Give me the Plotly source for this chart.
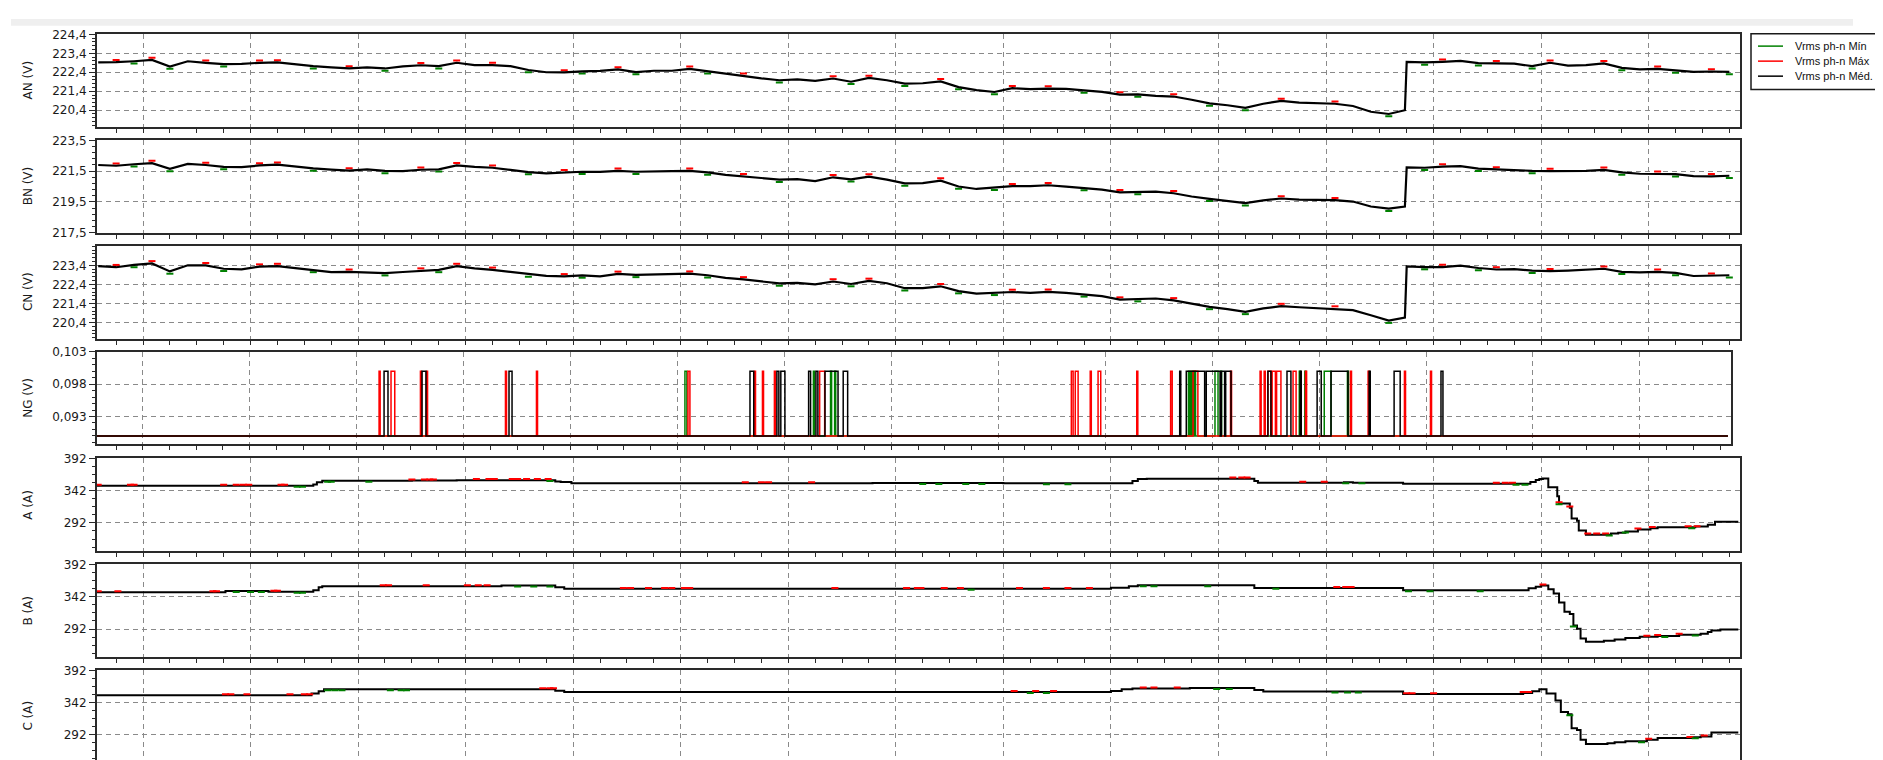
import pandas as pd
import plotly.graph_objects as go

W, H = 1883, 760
DAY = '2024-03-11 '

# ---------------- time base for the voltage averages (10-min log + last reading before the jump) ----------------
t_med = (list(pd.date_range(DAY + '07:35', periods=73, freq='10min'))
         + [pd.Timestamp(DAY + '19:44')]
         + list(pd.date_range(DAY + '19:45', periods=19, freq='10min')))

# ---------------- phase-neutral voltages (V) ----------------
an_med = [222.92, 222.93, 222.98, 223.05, 222.70, 222.98, 222.90, 222.83, 222.84, 222.90,
          222.92, 222.82, 222.72, 222.66, 222.60, 222.66, 222.60, 222.71, 222.77, 222.72,
          222.90, 222.78, 222.78, 222.72, 222.52, 222.40, 222.39, 222.45, 222.47, 222.55,
          222.41, 222.48, 222.48, 222.58, 222.45, 222.34, 222.22, 222.08, 221.98, 222.02,
          221.95, 222.07, 221.90, 222.10, 221.98, 221.80, 221.82, 221.92, 221.62, 221.46,
          221.36, 221.56, 221.51, 221.54, 221.52, 221.44, 221.37, 221.22, 221.23, 221.16,
          221.12, 220.95, 220.76, 220.66, 220.52, 220.74, 220.89, 220.80, 220.78, 220.74,
          220.62, 220.32, 220.20, 220.40, 222.95, 222.92, 222.95, 223.00, 222.88, 222.88,
          222.86, 222.72, 222.90, 222.75, 222.78, 222.87, 222.63, 222.55, 222.58, 222.50,
          222.42, 222.44, 222.42]
bn_med = [221.90, 221.85, 221.95, 222.02, 221.65, 221.97, 221.90, 221.78, 221.76, 221.87,
          221.92, 221.78, 221.68, 221.60, 221.54, 221.62, 221.52, 221.50, 221.59, 221.62,
          221.88, 221.78, 221.72, 221.58, 221.44, 221.35, 221.42, 221.46, 221.45, 221.52,
          221.46, 221.50, 221.50, 221.52, 221.42, 221.26, 221.16, 221.05, 220.95, 220.98,
          220.85, 221.10, 220.97, 221.14, 220.95, 220.70, 220.72, 220.88, 220.50, 220.34,
          220.42, 220.52, 220.52, 220.58, 220.49, 220.40, 220.30, 220.12, 220.14, 220.16,
          220.06, 219.85, 219.70, 219.55, 219.42, 219.60, 219.72, 219.65, 219.63, 219.61,
          219.52, 219.20, 219.06, 219.20, 221.74, 221.72, 221.80, 221.82, 221.66, 221.60,
          221.54, 221.52, 221.50, 221.50, 221.52, 221.58, 221.42, 221.33, 221.33, 221.30,
          221.17, 221.16, 221.20]
cn_med = [223.36, 223.30, 223.42, 223.50, 223.08, 223.40, 223.40, 223.22, 223.19, 223.33,
          223.36, 223.26, 223.16, 223.04, 223.06, 223.03, 222.99, 223.05, 223.12, 223.16,
          223.36, 223.24, 223.16, 223.06, 222.92, 222.85, 222.82, 222.87, 222.82, 222.95,
          222.90, 222.92, 222.92, 222.96, 222.88, 222.74, 222.66, 222.54, 222.45, 222.48,
          222.40, 222.55, 222.42, 222.58, 222.46, 222.20, 222.20, 222.30, 222.05, 221.92,
          221.96, 222.00, 221.95, 222.01, 221.95, 221.88, 221.78, 221.60, 221.63, 221.66,
          221.56, 221.38, 221.22, 221.10, 220.96, 221.14, 221.26, 221.20, 221.15, 221.13,
          221.05, 220.78, 220.50, 220.66, 223.34, 223.31, 223.31, 223.38, 223.26, 223.18,
          223.20, 223.12, 223.09, 223.12, 223.16, 223.22, 223.06, 223.03, 223.06, 223.00,
          222.84, 222.85, 222.88]

# Máx / Mín readings that stand out from the average (same instants for the three phases)
v_max_time = ['07:45', '08:05', '08:35', '09:05', '09:15', '09:55', '10:35', '10:55', '11:15', '11:55',
              '12:25', '13:05', '13:35', '14:25', '14:45', '15:25', '16:05', '16:25', '17:05', '17:35',
              '18:35', '19:05', '20:05', '20:35', '21:05', '21:35', '22:05', '22:35']
an_max = [223.05, 223.17, 223.02, 223.02, 223.04, 222.72, 222.89, 223.02, 222.90, 222.51,
          222.67, 222.70, 222.34, 222.19, 222.22, 222.04, 221.68, 221.66, 221.34, 221.24,
          221.01, 220.86, 223.07, 223.00, 223.02, 222.99, 222.70, 222.56]
bn_max = [222.00, 222.17, 222.05, 222.02, 222.07, 221.69, 221.74, 222.03, 221.87, 221.57,
          221.67, 221.67, 221.31, 221.25, 221.29, 221.03, 220.67, 220.73, 220.27, 220.21,
          219.87, 219.76, 221.95, 221.75, 221.65, 221.73, 221.48, 221.31]
cn_max = [223.42, 223.62, 223.52, 223.45, 223.48, 223.18, 223.24, 223.48, 223.28, 222.94,
          223.07, 223.08, 222.78, 222.67, 222.70, 222.42, 222.12, 222.13, 221.72, 221.68,
          221.38, 221.25, 223.43, 223.30, 223.21, 223.34, 223.18, 222.97]
v_min_time = ['07:55', '08:15', '08:45', '09:35', '10:15', '10:45', '11:35', '12:05', '12:35', '13:15',
              '13:55', '14:35', '15:05', '15:35', '15:55', '16:45', '17:15', '17:55', '18:15', '19:35',
              '19:55', '20:25', '20:55', '21:45', '22:15', '22:45']
an_min = [222.86, 222.58, 222.71, 222.60, 222.48, 222.60, 222.40, 222.33, 222.29, 222.33,
          221.86, 221.78, 221.68, 221.50, 221.24, 221.32, 221.11, 220.64, 220.40, 220.08,
          222.80, 222.76, 222.60, 222.51, 222.38, 222.30]
bn_min = [221.80, 221.50, 221.63, 221.53, 221.37, 221.47, 221.29, 221.31, 221.31, 221.27,
          220.80, 220.82, 220.55, 220.35, 220.27, 220.25, 219.99, 219.55, 219.27, 218.91,
          221.57, 221.51, 221.37, 221.27, 221.15, 221.05]
cn_min = [223.30, 222.96, 223.10, 223.04, 222.87, 223.04, 222.80, 222.75, 222.78, 222.76,
          222.33, 222.30, 222.08, 221.93, 221.84, 221.76, 221.51, 221.10, 220.84, 220.38,
          223.19, 223.14, 223.00, 222.94, 222.88, 222.76]

# ---------------- neutral-ground voltage (V): intervals at the high level ----------------
ng_low, ng_high = 0.090, 0.100
ng_start, ng_end = '07:34:20', '22:49:24'
ng_min_pulses = [('13:04:12', '13:05:18'), ('14:16:18', '14:16:54'), ('14:25:54', '14:26:30'),
                 ('14:28:12', '14:28:48'), ('17:46:42', '17:47:18'), ('17:47:48', '17:48:24'),
                 ('17:49:00', '17:49:36'), ('17:50:06', '17:50:42'), ('18:01:36', '18:03:18'),
                 ('18:04:42', '18:05:18'), ('18:48:54', '18:49:30'), ('18:52:00', '18:52:36'),
                 ('19:02:54', '19:06:42'), ('19:15:54', '19:16:30')]
ng_max_pulses = [('10:12:36', '10:13:12'), ('10:19:18', '10:21:24'), ('10:35:48', '10:36:24'),
                 ('10:39:12', '10:39:48'), ('11:23:30', '11:24:06'), ('11:40:54', '11:41:30'),
                 ('13:05:54', '13:07:00'), ('13:43:12', '13:43:48'), ('13:47:42', '13:48:18'),
                 ('13:54:24', '13:55:00'), ('14:19:48', '14:22:36'), ('16:41:00', '16:42:00'),
                 ('16:43:12', '16:44:48'), ('16:51:36', '16:52:12'), ('16:56:00', '16:57:30'),
                 ('17:17:42', '17:18:18'), ('17:36:42', '17:37:36'), ('17:49:18', '17:52:00'),
                 ('18:10:18', '18:10:54'), ('18:26:54', '18:27:30'), ('18:29:12', '18:29:48'),
                 ('18:31:18', '18:33:00'), ('18:33:40', '18:35:30'), ('18:36:10', '18:38:36'),
                 ('18:45:24', '18:47:06'), ('18:52:24', '18:53:00'), ('19:17:36', '19:18:12'),
                 ('19:27:30', '19:28:06'), ('19:47:54', '19:48:30'), ('20:02:30', '20:03:06')]
ng_med_pulses = [('10:15:24', '10:17:36'), ('10:36:42', '10:38:54'), ('11:25:30', '11:27:12'),
                 ('13:40:42', '13:42:48'), ('13:55:48', '13:56:54'), ('13:58:00', '14:00:18'),
                 ('14:13:36', '14:14:42'), ('14:17:42', '14:18:48'), ('14:22:48', '14:30:06'),
                 ('14:33:00', '14:35:30'), ('17:41:48', '17:42:24'), ('17:45:30', '17:55:48'),
                 ('17:56:42', '18:04:30'), ('18:05:12', '18:07:00'), ('18:07:36', '18:10:36'),
                 ('18:31:18', '18:33:00'), ('18:42:00', '18:44:12'), ('18:49:24', '18:50:00'),
                 ('18:58:54', '19:01:12'), ('19:06:42', '19:16:12'), ('19:28:06', '19:28:42'),
                 ('19:42:06', '19:45:30'), ('20:08:24', '20:09:30')]

# ---------------- phase currents (A): change points ----------------
ia_time = ['07:34', '09:35', '09:37', '09:40', '10:30', '10:55', '11:50', '11:53', '11:59', '14:47',
           '16:00', '17:12', '17:15', '17:20', '18:20', '18:22', '19:10', '19:15', '19:43', '20:54',
           '20:57', '20:59', '21:01', '21:04', '21:09', '21:10', '21:16', '21:17', '21:20', '21:21',
           '21:25', '21:39', '21:43', '21:47', '21:54', '22:01', '22:05', '22:26', '22:33', '22:37',
           '22:50']
ia_med = [349.6, 351.5, 355.0, 357.6, 358.0, 358.4, 356.5, 355.4, 353.5, 354.0,
          353.6, 357.0, 360.2, 360.5, 357.0, 354.5, 355.0, 354.5, 352.8, 355.5,
          358.5, 360.2, 361.0, 347.5, 333.4, 322.3, 315.7, 299.0, 295.5, 280.3,
          273.8, 275.5, 276.8, 278.8, 281.8, 283.8, 285.3, 286.3, 289.0, 294.0,
          294.0]
ia_max_time = ['07:35', '07:53', '07:55', '08:45', '08:52', '08:56', '08:59', '09:17', '09:19', '10:30',
               '10:37', '10:40', '10:42', '11:06', '11:13', '11:16', '11:26', '11:29', '11:34', '11:40',
               '11:46', '13:36', '13:45', '13:49', '14:13', '18:08', '18:13', '18:16', '18:47', '18:59',
               '20:35', '20:40', '20:44', '21:10', '21:16', '21:26', '21:31', '21:36', '21:54', '22:02',
               '22:22', '22:27']
ia_max = [351.1, 351.1, 351.1, 351.1, 351.1, 351.1, 351.1, 351.1, 351.1, 359.5,
          359.5, 359.5, 359.5, 360.0, 360.0, 360.0, 360.0, 360.0, 360.0, 360.0,
          360.0, 355.0, 355.0, 355.0, 355.0, 362.5, 362.5, 362.5, 356.0, 356.0,
          354.3, 354.3, 354.3, 324.0, 317.5, 275.5, 275.5, 275.5, 283.5, 285.5,
          287.0, 287.0]
ia_min_time = ['09:26', '09:29', '09:43', '09:45', '10:06', '11:47', '15:15', '15:24', '15:39', '15:48',
               '16:24', '16:36', '19:11', '19:20', '20:46', '20:51', '21:10', '21:38', '21:47', '22:24']
ia_min = [348.1, 348.1, 356.1, 356.1, 356.1, 357.0, 352.4, 352.4, 352.4, 352.4,
          352.1, 352.1, 353.5, 353.5, 351.3, 351.3, 320.8, 272.3, 277.3, 283.8]

ib_time = ['07:34', '08:46', '09:10', '09:35', '09:38', '09:40', '11:20', '11:50', '11:55', '17:00',
           '17:10', '17:15', '18:20', '19:43', '20:53', '20:57', '21:00', '21:04', '21:07', '21:10',
           '21:13', '21:16', '21:18', '21:20', '21:22', '21:25', '21:35', '21:41', '21:47', '21:55',
           '22:05', '22:17', '22:29', '22:33', '22:35', '22:40', '22:50']
ib_med = [349.0, 350.8, 349.6, 352.0, 356.5, 358.1, 359.3, 356.5, 354.1, 356.0,
          358.0, 359.5, 355.6, 352.1, 355.0, 357.5, 359.2, 353.6, 347.0, 332.9,
          318.7, 315.2, 297.5, 292.5, 277.3, 272.3, 274.0, 275.8, 278.4, 280.2,
          281.4, 283.4, 284.9, 287.5, 289.9, 291.4, 291.4]
ib_max_time = ['07:35', '07:46', '08:39', '08:41', '09:13', '09:15', '10:14', '10:17', '10:38', '11:01',
               '11:07', '11:12', '12:28', '12:32', '12:42', '12:51', '12:55', '13:02', '13:05', '14:26',
               '15:06', '15:12', '15:14', '15:27', '15:36', '16:09', '16:24', '16:36', '16:48', '19:06',
               '19:11', '19:14', '21:01', '21:59', '22:05', '22:17']
ib_max = [350.5, 350.5, 350.5, 350.5, 351.1, 351.1, 359.6, 359.6, 359.6, 359.6,
          359.6, 359.6, 355.6, 355.6, 355.6, 355.6, 355.6, 355.6, 355.6, 355.6,
          355.6, 355.6, 355.6, 355.6, 355.6, 355.6, 355.6, 355.6, 355.6, 357.1,
          357.1, 357.1, 360.7, 281.7, 282.9, 284.9]
ib_min_time = ['08:52', '09:00', '09:06', '09:26', '09:29', '11:29', '11:38', '11:47', '15:42', '17:18',
               '17:24', '17:54', '18:32', '19:46', '19:58', '20:26', '21:18', '22:09', '22:26']
ib_min = [349.3, 349.3, 349.3, 348.1, 348.1, 357.8, 357.8, 357.8, 352.6, 358.0,
          358.0, 358.0, 354.1, 350.6, 350.6, 350.6, 296.0, 279.9, 281.9]

ic_time = ['07:34', '09:34', '09:38', '09:41', '11:50', '11:55', '17:00', '17:06', '17:12', '17:44',
           '18:20', '18:25', '19:43', '20:50', '20:55', '20:59', '21:03', '21:08', '21:11', '21:15',
           '21:17', '21:20', '21:22', '21:25', '21:37', '21:41', '21:47', '21:59', '22:05', '22:25',
           '22:29', '22:35', '22:50']
ic_med = [353.5, 356.0, 359.5, 362.6, 360.5, 358.4, 360.0, 362.6, 363.7, 364.7,
          361.5, 359.1, 355.1, 357.0, 359.5, 362.6, 356.2, 345.0, 327.3, 323.8,
          302.0, 299.5, 284.4, 277.8, 279.0, 280.3, 281.8, 284.4, 286.9, 288.0,
          289.4, 295.5, 295.5]
ic_max_time = ['08:46', '08:49', '08:58', '09:22', '09:30', '09:33', '11:43', '11:47', '11:49', '16:06',
               '16:18', '16:28', '17:18', '17:24', '17:37', '19:45', '19:48', '20:00', '20:50', '20:53',
               '22:00', '22:23', '22:31']
ic_max = [355.0, 355.0, 355.0, 355.0, 355.0, 355.0, 364.1, 364.1, 364.1, 359.9,
          359.9, 359.9, 365.2, 365.2, 365.2, 356.6, 356.6, 356.6, 358.5, 358.5,
          285.9, 288.4, 290.9]
ic_min_time = ['09:43', '09:47', '09:51', '10:18', '10:24', '10:27', '16:15', '16:24', '17:59', '18:06',
               '19:05', '19:12', '19:18', '21:16', '21:56', '22:26']
ic_min = [361.1, 361.1, 361.1, 361.1, 361.1, 361.1, 356.9, 356.9, 363.2, 363.2,
          357.6, 357.6, 357.6, 322.3, 280.3, 286.5]

# ---------------- axis labels ----------------
titles = ['AN (V)', 'BN (V)', 'CN (V)', 'NG (V)', 'A (A)', 'B (A)', 'C (A)']
ticks_an = [224.4, 223.4, 222.4, 221.4, 220.4]
ticks_bn = [223.5, 221.5, 219.5, 217.5]
ticks_cn = [223.4, 222.4, 221.4, 220.4]
ticks_ng = [0.103, 0.098, 0.093]
ticks_i = [392, 342, 292]
legend_names = ['Vrms ph-n Mín', 'Vrms ph-n Máx', 'Vrms ph-n Méd.']

# ---------------- styling ----------------
GREEN, RED, BLACK = '#008000', '#ff0000', '#000000'
FRAME, GRID = '#2a2a2a', '#8a8a8a'
FONT = 'DejaVu Sans'
LEG_FONT = 'Liberation Sans'


def T(lst):
    return [DAY + s for s in lst]


def pulses_xy(pulses):
    xs, ys = [DAY + ng_start], [ng_low]
    for s, e in pulses:
        xs += [DAY + s, DAY + e]
        ys += [ng_high, ng_low]
    xs.append(DAY + ng_end)
    ys.append(ng_low)
    return xs, ys


fig = go.Figure()


def ax(i):
    return ('x', 'y') if i == 1 else (f'x{i}', f'y{i}')


def add_line(i, x, y, color, width, name, shape='hv'):
    xa, ya = ax(i)
    fig.add_trace(go.Scatter(x=x, y=y, mode='lines', line=dict(color=color, width=width, shape=shape),
                             name=name, xaxis=xa, yaxis=ya, showlegend=False, hoverinfo='skip'))


def add_specks(i, x, y, color, name, size=5):
    xa, ya = ax(i)
    fig.add_trace(go.Scatter(x=x, y=y, mode='markers', name=name, xaxis=xa, yaxis=ya, showlegend=False,
                             marker=dict(symbol='line-ew', size=size, line=dict(width=2, color=color)),
                             hoverinfo='skip'))


# voltage panels
for i, (mn, mx, md) in enumerate([(an_min, an_max, an_med), (bn_min, bn_max, bn_med),
                                  (cn_min, cn_max, cn_med)], start=1):
    add_specks(i, T(v_min_time), mn, GREEN, legend_names[0], size=5)
    add_specks(i, T(v_max_time), mx, RED, legend_names[1], size=5)
    add_line(i, t_med, md, BLACK, 2.2, legend_names[2], shape='linear')

# NG panel
for pulses, col, nm in [(ng_min_pulses, GREEN, legend_names[0]), (ng_max_pulses, RED, legend_names[1]),
                        (ng_med_pulses, BLACK, legend_names[2])]:
    xs, ys = pulses_xy(pulses)
    add_line(4, xs, ys, col, 1.5, nm)

# current panels
for i, (tt, md, tmx, mx, tmn, mn) in enumerate([
        (ia_time, ia_med, ia_max_time, ia_max, ia_min_time, ia_min),
        (ib_time, ib_med, ib_max_time, ib_max, ib_min_time, ib_min),
        (ic_time, ic_med, ic_max_time, ic_max, ic_min_time, ic_min)], start=5):
    add_line(i, T(tt), md, BLACK, 2, legend_names[2])
    add_specks(i, T(tmx), mx, RED, legend_names[1])
    add_specks(i, T(tmn), mn, GREEN, legend_names[0])

# ---------------- layout ----------------
X_RANGE = [DAY + '07:34:20', DAY + '22:51:07']
panels = [
    # top px, bottom px, right px, y range, tick values, format, minor step
    dict(top=19.5, bot=113.8, right=1732.3, rng=[219.53, 224.41], tv=ticks_an, fmt='.1f', mdt=0.2),
    dict(top=127.3, bot=222.3, right=1732.3, rng=[217.46, 223.53], tv=ticks_bn, fmt='.1f', mdt=0.4),
    dict(top=235.0, bot=330.0, right=1732.3, rng=[219.54, 224.43], tv=ticks_cn, fmt='.1f', mdt=0.2),
    dict(top=343.0, bot=437.0, right=1723.0, rng=[0.08876, 0.10302], tv=ticks_ng, fmt='.3f', mdt=0.001),
    dict(top=451.7, bot=546.0, right=1732.3, rng=[248.5, 392.2], tv=ticks_i, fmt='d', mdt=12.5),
    dict(top=559.5, bot=654.3, right=1732.3, rng=[248.5, 392.2], tv=ticks_i, fmt='d', mdt=12.5),
    dict(top=667.5, bot=760.0, right=1732.3, rng=[251.3, 392.2], tv=ticks_i, fmt='d', mdt=12.5),
]

layout = dict(width=W, height=H, margin=dict(l=0, r=0, t=0, b=0), paper_bgcolor='white',
              plot_bgcolor='white', separators=',.', showlegend=False,
              font=dict(family=FONT, size=12, color='#1a1a1a'))
annotations, shapes = [], []
for i, p in enumerate(panels, start=1):
    xk = 'xaxis' if i == 1 else f'xaxis{i}'
    yk = 'yaxis' if i == 1 else f'yaxis{i}'
    xa, ya = ax(i)
    layout[xk] = dict(
        domain=[89 / W, p['right'] / W], range=X_RANGE, type='date', anchor=ya,
        showticklabels=False, showgrid=True, gridcolor=GRID, gridwidth=1, griddash='5px,4px',
        tick0=DAY + '08:00', dtick=3600000, ticks='outside', ticklen=4, tickcolor=FRAME, tickwidth=1,
        showline=True, linecolor=FRAME, linewidth=2, mirror=True, zeroline=False,
        minor=dict(tick0=DAY + '08:00', dtick=900000, ticks='outside', ticklen=4, tickcolor=FRAME,
                   tickwidth=1, showgrid=False))
    layout[yk] = dict(
        domain=[1 - p['bot'] / H, 1 - p['top'] / H], range=p['rng'], anchor=xa,
        tickmode='array', tickvals=p['tv'], tickformat=p['fmt'],
        tickfont=dict(family=FONT, size=12, color='#1a1a1a'),
        ticks='outside', ticklen=6, tickcolor=FRAME, tickwidth=1,
        showline=True, linecolor=FRAME, linewidth=2, mirror=True, zeroline=False,
        showgrid=True, gridcolor=GRID, gridwidth=1, griddash='5px,4px',
        minor=dict(tick0=p['tv'][-1], dtick=p['mdt'], ticks='outside', ticklen=3, tickcolor=FRAME,
                   tickwidth=1, showgrid=False))
    annotations.append(dict(text=titles[i - 1], xref='paper', yref='paper', x=20 / W,
                            y=1 - (p['top'] + min(p['bot'], p['top'] + 94.5)) / 2 / H,
                            textangle=-90, showarrow=False, xanchor='center', yanchor='middle',
                            font=dict(family=FONT, size=12, color='#1a1a1a')))

# light toolbar strip at the very top
shapes.append(dict(type='rect', xref='paper', yref='paper', x0=3 / W, x1=1845 / W,
                   y0=1 - 11 / H, y1=1 - 4 / H, fillcolor='#efefef', line=dict(width=0), layer='below'))

# legend box (drawn by hand to match the compact original legend)
shapes.append(dict(type='rect', xref='paper', yref='paper', x0=1743 / W, x1=1.01,
                   y0=1 - 76 / H, y1=1 - 19 / H, line=dict(color='#1a1a1a', width=1.5),
                   fillcolor='white'))
for row_y, col, nm in zip([31.7, 47.0, 62.3], [GREEN, RED, BLACK], legend_names):
    shapes.append(dict(type='line', xref='paper', yref='paper', x0=1750 / W, x1=1775 / W,
                       y0=1 - row_y / H, y1=1 - row_y / H, line=dict(color=col, width=1.5)))
    annotations.append(dict(text=nm, xref='paper', yref='paper', x=1785 / W, y=1 - row_y / H,
                            xanchor='left', yanchor='middle', showarrow=False,
                            font=dict(family=LEG_FONT, size=11, color='#111111')))

layout['annotations'] = annotations
layout['shapes'] = shapes
fig.update_layout(**layout)
fig.write_html('out.html')
